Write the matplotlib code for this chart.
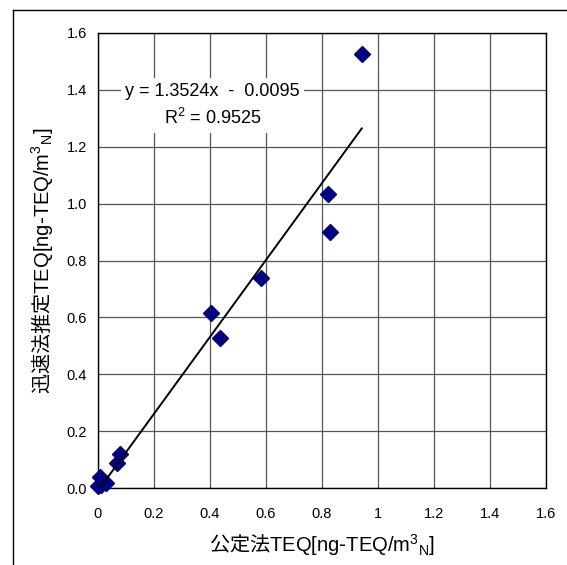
import matplotlib
matplotlib.use("Agg")
import matplotlib.pyplot as plt
from matplotlib.lines import Line2D
import numpy as np

plt.rcParams['font.family'] = ['Liberation Sans', 'Noto Sans CJK JP', 'DejaVu Sans']
plt.rcParams['mathtext.fontset'] = 'custom'
plt.rcParams['mathtext.rm'] = 'Liberation Sans'
plt.rcParams['mathtext.it'] = 'Liberation Sans:italic'
plt.rcParams['mathtext.default'] = 'regular'

# 公定法 (x) と 迅速法推定 (y) の TEQ
koutei = [0.942, 0.821, 0.829, 0.582, 0.403, 0.434, 0.080, 0.068,
          0.006, 0.001, 0.027, 0.012]
jinsoku = [1.525, 1.034, 0.900, 0.739, 0.614, 0.526, 0.118, 0.088,
           0.038, 0.008, 0.016, 0.012]

# 回帰式
slope = 1.3524
intercept = -0.0095
r2 = 0.9525

x_ticks = [0, 0.2, 0.4, 0.6, 0.8, 1.0, 1.2, 1.4, 1.6]
x_ticklabels = ["0", "0.2", "0.4", "0.6", "0.8", "1", "1.2", "1.4", "1.6"]
y_ticks = [0, 0.2, 0.4, 0.6, 0.8, 1.0, 1.2, 1.4, 1.6]
y_ticklabels = ["0.0", "0.2", "0.4", "0.6", "0.8", "1.0", "1.2", "1.4", "1.6"]

fig = plt.figure(figsize=(5.67, 5.65), dpi=100)
ax = fig.add_axes([98/567, 1-488/565, 448/567, 455/565])

# 外枠
fig.add_artist(Line2D([13/567, 13/567], [-0.1, 1-10/565], color='black', lw=1.0))
fig.add_artist(Line2D([13/567, 1.1], [1-10/565, 1-10/565], color='black', lw=1.0))

ax.plot(koutei, jinsoku, ls='none', marker='D', ms=8, color='#000080',
        mec='#000080', zorder=3, clip_on=False)

xs = np.array([min(koutei), max(koutei)])
ax.plot(xs, slope*xs + intercept, color='black', lw=1.4, zorder=4)

ax.set_xlim(0, 1.6)
ax.set_ylim(0, 1.6)
ax.set_xticks(x_ticks)
ax.set_xticklabels(x_ticklabels)
ax.set_yticks(y_ticks)
ax.set_yticklabels(y_ticklabels)
ax.tick_params(length=0, labelsize=10.5)
ax.tick_params(axis='x', pad=14)
ax.tick_params(axis='y', pad=8)
ax.grid(True, color='#555555', lw=0.9)
ax.set_axisbelow(True)
for s in ax.spines.values():
    s.set_color('black')
    s.set_linewidth(1.0)

ax.text(0.41, 1.345, f'y = {slope}x  -  {abs(intercept):.4f}\nR$^{{2}}$ = {r2}',
        ha='center', va='center', ma='center', fontsize=13, linespacing=1.55,
        bbox=dict(facecolor='white', edgecolor='none', pad=3), zorder=5)

ax.set_xlabel('公定法$\\mathrm{TEQ[ng}$-$\\mathrm{TEQ/m^{3}{}_{N}]}$',
              family='Noto Sans CJK JP', fontsize=14.5, labelpad=8)
ax.set_ylabel('迅速法推定$\\mathrm{TEQ[ng}$-$\\mathrm{TEQ/m^{3}{}_{N}]}$',
              family='Noto Sans CJK JP', fontsize=14.5, labelpad=8)

fig.savefig('out.png', dpi=100)
